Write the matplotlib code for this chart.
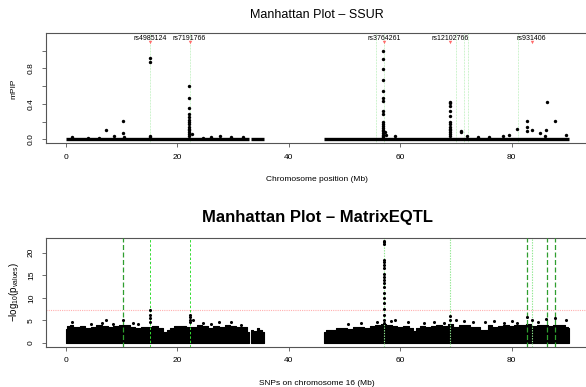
import matplotlib
matplotlib.use('Agg')
import matplotlib.pyplot as plt

plt.rcParams['font.family'] = ['Liberation Sans', 'DejaVu Sans']
plt.rcParams['mathtext.fontset'] = 'custom'
plt.rcParams['mathtext.rm'] = 'Liberation Sans'
plt.rcParams['mathtext.it'] = 'Liberation Sans'

# chromosome 16 coverage (Mb)
segments = [(0.0, 32.9), (33.3, 35.5), (46.4, 90.3)]

# ---- SSUR (mPIP) ----
ssur_x = [1.1, 4.0, 5.9, 7.3, 8.6, 10.2, 10.2, 10.5, 15.1, 15.1, 15.1, 15.1,
          22.7, 24.6, 26.0, 27.6, 29.7, 31.8, 57.3, 57.5, 59.0, 71.0, 71.0,
          72.0, 74.0, 76.0, 78.4, 79.5, 80.9, 82.7, 82.7, 82.7, 83.6, 85.0,
          85.9, 86.1, 86.3, 87.7, 89.7]
ssur_y = [0.03, 0.015, 0.02, 0.11, 0.04, 0.21, 0.07, 0.03, 0.92, 0.875, 0.04, 0.03,
          0.06, 0.02, 0.03, 0.04, 0.03, 0.03, 0.08, 0.05, 0.04, 0.09, 0.08,
          0.04, 0.03, 0.03, 0.04, 0.05, 0.115, 0.21, 0.135, 0.09, 0.105, 0.07,
          0.04, 0.105, 0.42, 0.21, 0.05]
# columns of SNPs at the strongest loci
col22_y = [0.60, 0.46, 0.35, 0.29, 0.25, 0.22, 0.19, 0.17, 0.14, 0.12, 0.10, 0.08, 0.06, 0.04]
col57_y = [1.0, 0.91, 0.79, 0.665, 0.54, 0.47, 0.43, 0.32, 0.28, 0.19, 0.17, 0.15,
           0.13, 0.11, 0.09, 0.07, 0.05, 0.04, 0.03]
col69_y = [0.42, 0.41, 0.375, 0.32, 0.26, 0.20, 0.17, 0.14, 0.12, 0.10, 0.08, 0.06, 0.04]
col_x = [22.1, 56.9, 69.0]

top_snps = ['rs4985124', 'rs7191766', 'rs3764261', 'rs12102766', 'rs931406']
top_snp_pos = [15.1, 22.2, 57.05, 69.0, 83.6]
ssur_vlines = [15.1, 22.2, 55.7, 57.05, 70.0, 71.5, 72.1, 81.1]

# ---- MatrixEQTL (-log10 p) : upper envelope of the dense SNP cloud ----
env1_x = [0, 0.5, 1, 1.5, 2, 3, 4, 5, 6, 7, 8, 9, 10, 11, 12, 13, 14, 15, 16, 17,
          18, 18.5, 19, 20, 21, 22, 23, 24, 25, 26, 27, 28, 29, 30, 31, 32, 32.9]
env1_y = [3.2, 3.8, 4.0, 3.6, 3.5, 3.8, 3.3, 3.6, 3.9, 3.7, 3.5, 3.8, 4.0, 3.9, 3.6,
          3.4, 3.6, 3.5, 3.7, 3.4, 2.4, 2.8, 3.3, 3.8, 3.7, 3.5, 3.6, 3.9, 3.7, 3.4,
          3.8, 3.6, 3.9, 3.7, 3.5, 3.6, 2.5]
env2_x = [33.3, 34, 34.5, 35, 35.5]
env2_y = [2.8, 2.6, 3.4, 3.0, 2.4]
env3_x = [46.4, 47, 48, 49, 50, 51, 52, 53, 54, 55, 56, 57, 58, 59, 60, 61, 62, 62.7,
          63, 64, 65, 66, 67, 68, 69, 70, 71, 72, 73, 74, 74.8, 75.5, 76, 77, 78,
          79, 80, 81, 82, 83, 84, 85, 86, 87, 88, 89, 90, 90.3]
env3_y = [2.4, 2.9, 3.0, 3.3, 3.4, 3.2, 3.5, 3.6, 3.4, 3.7, 3.9, 4.2, 3.9, 3.7, 3.5,
          3.8, 3.4, 2.7, 3.3, 3.7, 3.5, 3.8, 4.0, 3.7, 4.3, 3.6, 3.9, 4.1, 3.6, 3.5,
          2.9, 3.0, 3.9, 3.6, 3.8, 4.0, 3.7, 3.9, 4.0, 4.3, 3.8, 3.9, 4.1, 3.8, 3.9,
          4.0, 3.6, 3.4]
eqtl_x = [1.1, 4.6, 6.5, 7.3, 8.5, 10.2, 12.0, 13.0, 15.1, 15.1, 15.1, 15.1,
          22.2, 22.2, 22.2, 22.2, 22.8, 24.6, 26.0, 27.5, 29.6, 31.4, 50.7, 53.0,
          55.8, 58.4, 59.0, 61.4, 64.3, 66.1, 67.8, 69.0, 69.0, 70.1, 71.5, 73.0,
          75.2, 76.8, 78.6, 80.0, 81.0, 82.7, 83.6, 84.7, 86.1, 87.7, 89.7]
eqtl_y = [4.6, 4.2, 4.5, 5.1, 4.3, 5.0, 4.4, 4.3, 7.3, 6.2, 5.5, 4.6,
          6.2, 5.8, 5.2, 4.7, 5.2, 4.5, 4.2, 4.6, 4.6, 4.0, 4.2, 4.4,
          4.7, 4.9, 5.2, 4.6, 4.5, 4.7, 4.4, 6.0, 5.2, 5.0, 4.8, 4.7,
          4.6, 4.9, 4.4, 4.8, 4.5, 5.8, 5.2, 4.6, 5.3, 5.6, 5.0]
col57_eqtl_y = [22.6, 22.3, 21.9, 18.4, 17.9, 17.3, 16.6, 15.2, 14.7, 14.0, 13.2,
                12.3, 11.0, 9.9, 8.8, 7.6, 6.2, 5.1, 4.5]
gw_threshold = 7.3
eqtl_dark_lines = [10.2, 82.7, 86.3, 87.7]
eqtl_bright_lines = [15.1, 22.2]
eqtl_light_lines = [57.05, 69.0, 83.6]

xlim = (-3.6, 93.8)
frame = '#555555'

fig = plt.figure(figsize=(5.86, 3.87), dpi=100)


def style_axes(ax):
    for s in ax.spines.values():
        s.set_color(frame)
        s.set_linewidth(0.8)
    ax.tick_params(colors=frame, labelcolor='black', labelsize=6, length=3.2,
                   width=0.6, pad=4.5)
    ax.set_xlim(*xlim)
    ax.set_xticks([0, 20, 40, 60, 80])
    for lab in ax.get_yticklabels():
        lab.set_rotation(90)
        lab.set_va('center')


# ---------------- top panel ----------------
ax1 = fig.add_axes([0.078, 0.6297, 0.9264, 0.2842])
for x in ssur_vlines:
    ax1.axvline(x, color='#9be89b', lw=0.5, ls=(0, (1, 1.2)), zorder=1)
for a, b in segments:
    ax1.plot([a, b], [0.004, 0.004], color='black', lw=2.4,
             solid_capstyle='butt', zorder=2)
ax1.scatter(ssur_x, ssur_y, s=6, color='black', linewidths=0, zorder=3)
for cx, cy in zip(col_x, [col22_y, col57_y, col69_y]):
    ax1.scatter([cx] * len(cy), cy, s=6, color='black', linewidths=0, zorder=3)
ax1.scatter(top_snp_pos, [1.097] * len(top_snp_pos), marker='v', s=6,
            color='#ff6a6a', linewidths=0, zorder=4)
for name, x in zip(top_snps, top_snp_pos):
    ax1.text(x, 1.14, name, ha='center', va='center', fontsize=5)
ax1.set_ylim(-0.045, 1.194)
ax1.set_yticks([0, 0.2, 0.4, 0.6, 0.8, 1.0])
ax1.set_yticklabels(['0.0', '', '0.4', '', '0.8', ''])
style_axes(ax1)
ax1.set_ylabel('mPIP', fontsize=6, labelpad=8)
ax1.set_xlabel('Chromosome position (Mb)', fontsize=6, labelpad=11)
ax1.set_title('Manhattan Plot \u2013 SSUR', fontsize=9, pad=11)

# ---------------- bottom panel ----------------
ax2 = fig.add_axes([0.078, 0.1041, 0.9264, 0.2817])
for ex, ey in [(env1_x, env1_y), (env2_x, env2_y), (env3_x, env3_y)]:
    ax2.fill_between(ex, 0, ey, step='mid', color='black', lw=0.8,
                     edgecolor='black', zorder=2)
ax2.axhline(gw_threshold, color='#ffb0b0', lw=0.8, ls=(0, (1, 1)), zorder=1)
for x in eqtl_dark_lines:
    ax2.axvline(x, color='#2e9e2e', lw=0.9, ls=(0, (4, 2)), zorder=4)
for x in eqtl_bright_lines:
    ax2.axvline(x, color='#33dd33', lw=0.7, ls=(0, (2.5, 2)), zorder=4)
for x in eqtl_light_lines:
    ax2.axvline(x, color='#8fe88f', lw=0.8, ls=(0, (1.2, 1.2)), zorder=4)
ax2.scatter(eqtl_x, eqtl_y, s=5, color='black', linewidths=0, zorder=5)
ax2.scatter([57.05] * len(col57_eqtl_y), col57_eqtl_y, s=5, color='black',
            linewidths=0, zorder=5)
ax2.set_ylim(-0.8, 23.3)
ax2.set_yticks([0, 5, 10, 15, 20])
style_axes(ax2)
ax2.set_ylabel(r'$-\mathrm{log}_{10}(\mathrm{p}_{\mathrm{values}})$', fontsize=7, labelpad=5)
ax2.set_xlabel('SNPs on chromosome 16 (Mb)', fontsize=6, labelpad=11)
ax2.set_title('Manhattan Plot \u2013 MatrixEQTL', fontsize=12, fontweight='bold', pad=11)

fig.savefig('out.png', dpi=100)
